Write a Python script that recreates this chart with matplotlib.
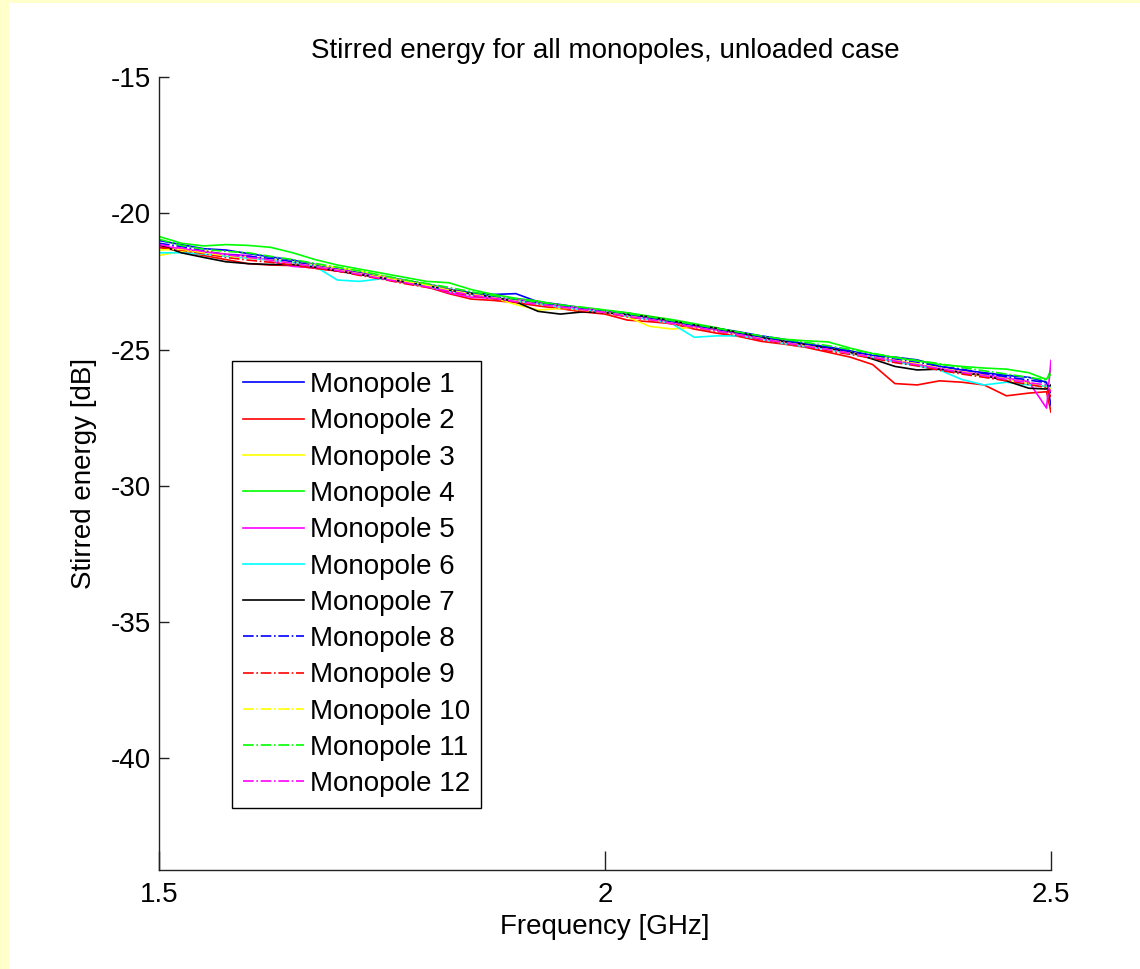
import numpy as np
import matplotlib
matplotlib.use("Agg")
import matplotlib.pyplot as plt
from matplotlib.patches import Rectangle

plt.rcParams["font.family"] = ["Liberation Sans", "DejaVu Sans"]

# frequency grid (GHz)
freq = [1.500, 1.525, 1.550, 1.575, 1.600, 1.625, 1.650, 1.675, 1.700, 1.725,
        1.750, 1.775, 1.800, 1.825, 1.850, 1.875, 1.900, 1.925, 1.950, 1.975,
        2.000, 2.025, 2.050, 2.075, 2.100, 2.125, 2.150, 2.175, 2.200, 2.225,
        2.250, 2.275, 2.300, 2.325, 2.350, 2.375, 2.400, 2.425, 2.450, 2.475,
        2.495, 2.500]

# stirred energy per monopole (dB)
mono1 = [-21.00, -21.15, -21.30, -21.35, -21.48, -21.60, -21.72, -21.88, -22.05, -22.18,
         -22.30, -22.45, -22.60, -22.78, -22.92, -22.98, -22.95, -23.25, -23.35, -23.48,
         -23.58, -23.66, -23.80, -23.95, -24.10, -24.22, -24.35, -24.50, -24.62, -24.80,
         -24.90, -25.05, -25.22, -25.28, -25.38, -25.62, -25.75, -25.85, -25.95, -26.02,
         -26.20, -27.05]
mono2 = [-21.25, -21.40, -21.55, -21.70, -21.85, -21.90, -21.92, -22.02, -22.12, -22.20,
         -22.40, -22.55, -22.70, -22.95, -23.15, -23.20, -23.28, -23.40, -23.50, -23.62,
         -23.70, -23.92, -23.98, -24.05, -24.25, -24.40, -24.52, -24.70, -24.80, -24.92,
         -25.10, -25.28, -25.55, -26.25, -26.30, -26.15, -26.20, -26.30, -26.70, -26.60,
         -26.55, -27.30]
mono3 = [-21.55, -21.40, -21.38, -21.50, -21.60, -21.68, -21.78, -21.90, -22.00, -22.12,
         -22.30, -22.48, -22.62, -22.80, -22.95, -23.10, -23.35, -23.55, -23.50, -23.55,
         -23.62, -23.80, -24.15, -24.25, -24.18, -24.28, -24.42, -24.58, -24.70, -24.85,
         -24.95, -25.10, -25.28, -25.40, -25.55, -25.70, -25.85, -25.98, -26.10, -26.25,
         -26.38, -26.50]
mono4 = [-20.85, -21.10, -21.20, -21.15, -21.18, -21.25, -21.45, -21.70, -21.90, -22.05,
         -22.20, -22.35, -22.50, -22.55, -22.80, -22.98, -23.12, -23.22, -23.38, -23.45,
         -23.55, -23.65, -23.78, -23.90, -24.05, -24.20, -24.38, -24.55, -24.62, -24.68,
         -24.72, -24.95, -25.15, -25.30, -25.42, -25.55, -25.62, -25.68, -25.72, -25.85,
         -26.10, -25.75]
mono5 = [-21.20, -21.30, -21.42, -21.50, -21.55, -21.75, -21.95, -22.00, -22.05, -22.20,
         -22.35, -22.50, -22.68, -22.92, -23.08, -23.12, -23.15, -23.28, -23.40, -23.48,
         -23.60, -23.72, -23.85, -24.00, -24.15, -24.28, -24.42, -24.58, -24.72, -24.82,
         -24.98, -25.12, -25.30, -25.42, -25.55, -25.70, -25.82, -25.92, -26.05, -26.18,
         -27.15, -25.40]
mono6 = [-21.45, -21.45, -21.50, -21.58, -21.65, -21.72, -21.80, -21.95, -22.45, -22.50,
         -22.40, -22.52, -22.68, -22.85, -22.98, -23.08, -23.22, -23.32, -23.45, -23.55,
         -23.62, -23.78, -23.90, -24.05, -24.55, -24.50, -24.50, -24.62, -24.78, -24.90,
         -25.00, -25.15, -25.30, -25.45, -25.60, -25.75, -26.10, -26.30, -26.20, -26.30,
         -26.35, -26.40]
mono7 = [-21.15, -21.45, -21.62, -21.78, -21.85, -21.88, -21.88, -21.98, -22.12, -22.25,
         -22.38, -22.52, -22.65, -22.82, -22.95, -23.08, -23.25, -23.60, -23.70, -23.62,
         -23.65, -23.72, -23.80, -23.95, -24.10, -24.22, -24.38, -24.55, -24.70, -24.82,
         -24.95, -25.10, -25.35, -25.62, -25.75, -25.72, -25.85, -25.95, -26.15, -26.42,
         -26.45, -26.30]
mono8 = [-21.10, -21.22, -21.38, -21.52, -21.58, -21.66, -21.78, -21.92, -22.06, -22.20,
         -22.36, -22.52, -22.66, -22.80, -22.92, -23.06, -23.18, -23.30, -23.38, -23.50,
         -23.60, -23.72, -23.86, -23.98, -24.12, -24.28, -24.42, -24.56, -24.68, -24.80,
         -24.92, -25.08, -25.22, -25.36, -25.48, -25.62, -25.72, -25.88, -26.00, -26.12,
         -26.22, -26.60]
mono9 = [-21.25, -21.35, -21.48, -21.62, -21.72, -21.80, -21.90, -22.02, -22.12, -22.28,
         -22.42, -22.58, -22.72, -22.88, -23.02, -23.14, -23.26, -23.36, -23.48, -23.58,
         -23.66, -23.80, -23.92, -24.06, -24.20, -24.34, -24.50, -24.64, -24.78, -24.90,
         -25.05, -25.18, -25.32, -25.48, -25.60, -25.76, -25.90, -26.02, -26.15, -26.28,
         -26.40, -26.75]
mono10 = [-21.35, -21.32, -21.45, -21.56, -21.64, -21.72, -21.84, -21.95, -22.08, -22.22,
          -22.36, -22.50, -22.64, -22.82, -22.96, -23.10, -23.22, -23.34, -23.45, -23.55,
          -23.64, -23.76, -23.90, -24.04, -24.18, -24.32, -24.46, -24.60, -24.74, -24.86,
          -25.00, -25.14, -25.27, -25.40, -25.52, -25.68, -25.82, -25.95, -26.08, -26.22,
          -26.32, -26.45]
mono11 = [-20.95, -21.18, -21.32, -21.40, -21.45, -21.58, -21.70, -21.84, -21.98, -22.12,
          -22.28, -22.44, -22.58, -22.72, -22.88, -23.02, -23.14, -23.26, -23.36, -23.46,
          -23.56, -23.68, -23.80, -23.94, -24.08, -24.22, -24.36, -24.50, -24.62, -24.74,
          -24.86, -25.00, -25.14, -25.28, -25.40, -25.52, -25.66, -25.78, -25.90, -26.02,
          -26.12, -25.90]
mono12 = [-21.15, -21.28, -21.40, -21.52, -21.62, -21.72, -21.84, -21.96, -22.10, -22.24,
          -22.40, -22.54, -22.70, -22.86, -23.00, -23.12, -23.24, -23.34, -23.44, -23.54,
          -23.64, -23.78, -23.90, -24.04, -24.18, -24.32, -24.46, -24.62, -24.74, -24.88,
          -25.00, -25.14, -25.28, -25.42, -25.56, -25.70, -25.84, -25.96, -26.10, -26.22,
          -26.30, -26.55]

series = [mono1, mono2, mono3, mono4, mono5, mono6,
          mono7, mono8, mono9, mono10, mono11, mono12]
labels = ["Monopole %d" % (i + 1) for i in range(12)]
colors = ["b", "r", "y", "g", "m", "c", "k", "b", "r", "y", "g", "m"]
# matlab-like pure colours
cmap = {"b": (0, 0, 1), "r": (1, 0, 0), "y": (1, 1, 0), "g": (0, 1, 0),
        "m": (1, 0, 1), "c": (0, 1, 1), "k": (0, 0, 0)}
styles = ["-"] * 7 + ["-."] * 5

fig = plt.figure(figsize=(11.4, 9.69), dpi=100, facecolor="white")
fig.add_artist(Rectangle((0, 0), 9 / 1140, 1, transform=fig.transFigure,
                         facecolor="#FFFFCC", edgecolor="none", zorder=-10))
fig.add_artist(Rectangle((0, 1 - 3 / 969), 1, 3 / 969, transform=fig.transFigure,
                         facecolor="#FFFFCC", edgecolor="none", zorder=-10))

ax = fig.add_axes([159 / 1140, 1 - 870 / 969, 892 / 1140, 793 / 969])

for y, c, ls, lab in zip(series, colors, styles, labels):
    ax.plot(freq, y, color=cmap[c], linestyle=ls, linewidth=1.2, label=lab)

ax.set_xlim(1.5, 2.5)
ax.set_ylim(-44.1, -15)
ax.set_xticks([1.5, 2, 2.5])
ax.set_xticklabels(["1.5", "2", "2.5"])
ax.set_yticks([-40, -35, -30, -25, -20, -15])
ax.set_yticklabels(["-40", "-35", "-30", "-25", "-20", "-15"])

for side in ["top", "right"]:
    ax.spines[side].set_visible(False)
for side in ["left", "bottom"]:
    ax.spines[side].set_linewidth(1.0)
    ax.spines[side].set_color("#222222")

ax.tick_params(axis="both", direction="in", labelsize=20, width=1.0, color="#222222")
ax.tick_params(axis="y", length=7.5, pad=6)
ax.tick_params(axis="x", length=14, pad=9)

ax.set_title("Stirred energy for all monopoles, unloaded case", fontsize=20, pad=14)
ax.set_xlabel("Frequency [GHz]", fontsize=20, labelpad=4)
ax.set_ylabel("Stirred energy [dB]", fontsize=20, labelpad=10)

leg = ax.legend(loc="upper left", bbox_to_anchor=((232 - 159) / 892, (870 - 361) / 793),
                borderaxespad=0, fontsize=20, fancybox=False, framealpha=1,
                edgecolor="black", handlelength=2.2, handletextpad=0.2,
                labelspacing=0.37, borderpad=0.4)
leg.get_frame().set_linewidth(1.0)

fig.savefig("out.png", dpi=100, facecolor=fig.get_facecolor())
